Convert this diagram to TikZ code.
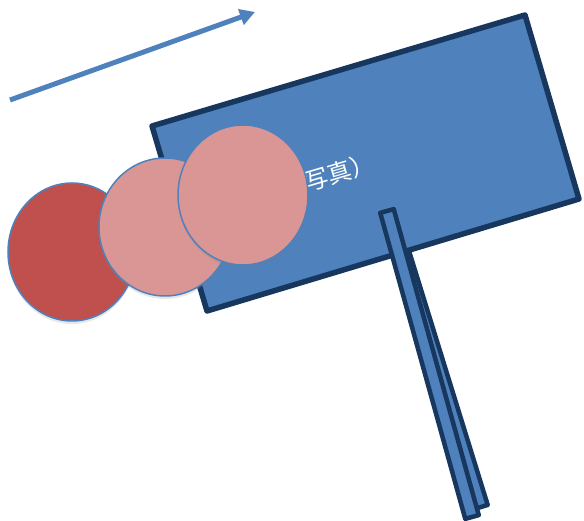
\documentclass[tikz,border=0pt]{standalone}
\usepackage{fontspec}
\usepackage{tikz}
\usetikzlibrary{arrows.meta,calc,shadows}
\newfontfamily\cjkjp{Noto Sans CJK JP}
\definecolor{boardblue}{RGB}{79,129,189}
\definecolor{edgenavy}{RGB}{23,55,94}
\definecolor{brick}{RGB}{192,80,77}
\definecolor{rose}{RGB}{217,150,148}

\begin{document}
\begin{tikzpicture}[x=1pt,y=-1pt,
   board/.style={draw=edgenavy,line width=5.5pt,line join=round,fill=boardblue},
   stick/.style={draw=edgenavy,line width=4.5pt,line join=round,fill=boardblue},
   disc/.style={draw=boardblue,line width=1.5pt,
     drop shadow={opacity=0.18,shadow xshift=0pt,shadow yshift=-3pt}},
   motion/.style={draw=boardblue,line width=5pt,-{Triangle[length=15pt,width=16pt]}}]
  \useasboundingbox (0,0) rectangle (584,521);
  % arrow
  \coordinate (tail) at (10,100);
  \coordinate (head) at (255,12);
  \draw[motion] (tail) -- (head);
  % back stick
  \coordinate (bt) at (389,210);
  \coordinate (bb) at (481,507);
  \draw[stick] ($(bt)!7pt!90:(bb)$) -- ($(bt)!7pt!-90:(bb)$)
    -- ($(bb)!7pt!90:(bt)$) -- ($(bb)!7pt!-90:(bt)$) -- cycle;
  % board
  \coordinate (tl) at (152,126);
  \coordinate (tr) at (525,15);
  \coordinate (br) at (579,199);
  \coordinate (bl) at (207,311);
  \draw[board] (tl) -- (tr) -- (br) -- (bl) -- cycle;
  \node[text=white,font=\cjkjp\fontsize{24}{24}\selectfont,rotate=16.6] (photo) at (328,176) {（写真）};
  % front stick
  \coordinate (ft) at (387,211);
  \coordinate (fb) at (472,517);
  \draw[stick] ($(ft)!7pt!90:(fb)$) -- ($(ft)!7pt!-90:(fb)$)
    -- ($(fb)!7pt!90:(ft)$) -- ($(fb)!7pt!-90:(ft)$) -- cycle;
  % discs
  \draw[disc,fill=brick] (72,252) ellipse [x radius=64,y radius=69];
  \draw[disc,fill=rose] (165,227) ellipse [x radius=66,y radius=69];
  \draw[disc,fill=rose] (243,195) ellipse [x radius=65,y radius=70];
\end{tikzpicture}
\end{document}
